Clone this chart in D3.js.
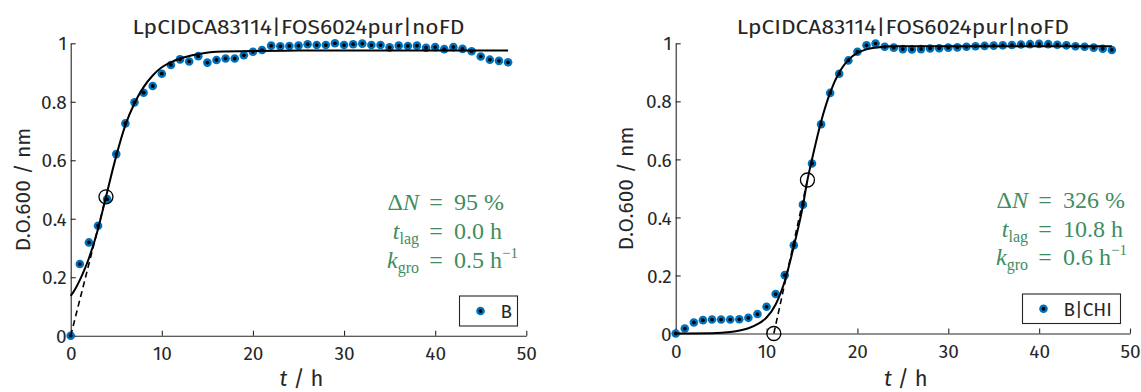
<!DOCTYPE html>
<html>
<head>
<meta charset="utf-8">
<script src="https://cdn.jsdelivr.net/npm/d3@7"></script>
<style>
  html, body { margin: 0; padding: 0; background: #fff; }
  svg { display: block; }
  .tick text, .lbl { font-family: "Fira Sans", "Open Sans", "Noto Sans", sans-serif; fill: #262626; }
  .stat { font-family: "Liberation Serif", "DejaVu Serif", serif; fill: #3f8d5f; font-size: 24px; }
</style>
</head>
<body>
<svg id="chart" width="1141" height="392"></svg>
<script>
// Sampling times (h)
const hours = [0,1,2,3,4,5,6,7,8,9,10,11,12,13,14,15,16,17,18,19,20,21,22,23,24,
  25,26,27,28,29,30,31,32,33,34,35,36,37,38,39,40,41,42,43,44,45,46,47,48];

// Optical density, condition B
const odB = [0,0.245,0.319,0.376,0.467,0.621,0.726,0.798,0.831,0.854,0.896,0.926,0.945,
  0.938,0.956,0.934,0.943,0.948,0.948,0.959,0.971,0.977,0.992,0.990,0.991,0.992,0.997,
  0.994,0.994,1.0,0.994,0.997,0.999,0.994,0.994,0.986,0.992,0.991,0.992,0.985,0.987,
  0.980,0.987,0.981,0.973,0.955,0.944,0.940,0.935];

// Optical density, condition B|CHI
const odBC = [0,0.017,0.038,0.046,0.048,0.048,0.048,0.049,0.054,0.067,0.092,0.136,0.201,
  0.304,0.444,0.586,0.721,0.829,0.895,0.941,0.971,0.993,0.999,0.988,0.985,0.980,0.979,
  0.980,0.982,0.983,0.985,0.986,0.988,0.990,0.991,0.992,0.993,0.994,0.996,0.997,0.998,
  0.997,0.995,0.993,0.990,0.988,0.985,0.981,0.977];

// Fitted growth curves (sampled)
const fitTimeB = [0,0.5,1,1.5,2,3,3.87,5,6,7,8,9,10,11,12,14,16,20,25,48];
const fitB = [0.136,0.16,0.19,0.225,0.265,0.365,0.475,0.615,0.72,0.795,0.85,0.89,0.918,
  0.935,0.948,0.963,0.971,0.974,0.975,0.975];
const fitTimeBC = [0,4,6,8,9,10,11,12,13,14,14.5,15,16,17,18,19,20,21,22,24,48];
const fitBC = [0,0.001,0.005,0.018,0.032,0.055,0.1,0.18,0.3,0.44,0.529,0.6,0.73,0.83,0.9,
  0.943,0.967,0.979,0.985,0.99,0.99];

// Inflection points, lag times and growth statistics
const inflB = [3.87, 0.475];
const inflBC = [14.5, 0.529];
const lagB = 0.0, lagBC = 10.8;
const deltaN = ["95", "326"];
const lagText = ["0.0", "10.8"];
const kText = ["0.5", "0.6"];

const titleText = "LpCIDCA83114|FOS6024pur|noFD";
const legendText = ["B", "B|CHI"];
const xTicks = [0,10,20,30,40,50];
const yTicks = [0,0.2,0.4,0.6,0.8,1];

const svg = d3.select("#chart");
const axisColor = "#262626";
const blue = "#0072BD";

const panels = [
  { x0: 70.7, x1: 526.3, yb: 335.7, yt: 43.3, od: odB, ft: fitTimeB, fv: fitB, infl: inflB, lag: lagB,
    showLagCircle: false, i: 0, legend: { x: 459.5, y: 296, w: 58, h: 30 },
    stat: { eq: 427, base: [210, 239, 268] }, ylab: 40.5 },
  { x0: 675.7, x1: 1130, yb: 333.5, yt: 43.3, od: odBC, ft: fitTimeBC, fv: fitBC, infl: inflBC, lag: lagBC,
    showLagCircle: true, i: 1, legend: { x: 1022.5, y: 294, w: 98, h: 29.5 },
    stat: { eq: 1036, base: [208, 237, 265] }, ylab: 43 }
];

panels.forEach(p => {
  const x = d3.scaleLinear().domain([0, 50]).range([p.x0, p.x1]);
  const y = d3.scaleLinear().domain([0, 1]).range([p.yb, p.yt]);
  const g = svg.append("g");

  // axes (ticks point inward)
  const xa = g.append("g").attr("transform", `translate(0,${p.yb})`)
    .call(d3.axisBottom(x).tickValues(xTicks).tickSize(-5).tickSizeOuter(0).tickPadding(0)
      .tickFormat(d3.format("d")));
  xa.selectAll(".tick text").attr("y", 24).attr("dy", null).style("font-size", "19px");
  const ya = g.append("g").attr("transform", `translate(${p.x0},0)`)
    .call(d3.axisLeft(y).tickValues(yTicks).tickSize(-5).tickSizeOuter(0).tickPadding(0)
      .tickFormat(d => d === 0 || d === 1 ? d3.format("d")(d) : d3.format(".1f")(d)));
  ya.selectAll(".tick text").attr("x", -4).attr("dy", "0.35em").style("font-size", "19px");
  [xa, ya].forEach(a => {
    a.select(".domain").attr("stroke", axisColor).attr("stroke-width", 1.1);
    a.selectAll(".tick line").attr("stroke", axisColor).attr("stroke-width", 1.1);
  });

  // title and axis labels
  g.append("text").attr("class", "lbl").attr("x", (p.x0 + p.x1) / 2).attr("y", 34)
    .attr("text-anchor", "middle").style("font-size", "21px")
    .attr("textLength", 332).attr("lengthAdjust", "spacingAndGlyphs").text(titleText);
  g.append("text").attr("class", "lbl")
    .attr("transform", `translate(${p.x0 - p.ylab},${(p.yb + p.yt) / 2}) rotate(-90)`)
    .attr("text-anchor", "middle").style("font-size", "21px").text("D.O.600 / nm");
  const xl = g.append("text").attr("class", "lbl").attr("x", (p.x0 + p.x1) / 2 + 3).attr("y", 386)
    .attr("text-anchor", "middle").style("font-size", "22px");
  xl.append("tspan").style("font-style", "italic").text("t");
  xl.append("tspan").text(" / h");

  // measured points: blue disc with black centre
  const pts = g.append("g");
  pts.selectAll("circle.o").data(hours).join("circle").attr("class", "o")
    .attr("cx", (d) => x(d)).attr("cy", (d, k) => y(p.od[k])).attr("r", 4.3).attr("fill", blue);
  pts.selectAll("circle.c").data(hours).join("circle").attr("class", "c")
    .attr("cx", (d) => x(d)).attr("cy", (d, k) => y(p.od[k])).attr("r", 1.9).attr("fill", "#000");

  // fitted curve
  const fitData = p.ft.map((t, k) => [t, p.fv[k]]);
  g.append("path").datum(fitData)
    .attr("d", d3.line().x(d => x(d[0])).y(d => y(d[1])).curve(d3.curveMonotoneX))
    .attr("fill", "none").attr("stroke", "#000").attr("stroke-width", 2);

  // tangent at inflection point, back to the lag time
  g.append("line").attr("x1", x(p.lag)).attr("y1", y(0)).attr("x2", x(p.infl[0])).attr("y2", y(p.infl[1]))
    .attr("stroke", "#000").attr("stroke-width", 1.6).attr("stroke-dasharray", "6,4");
  g.append("circle").attr("cx", x(p.infl[0])).attr("cy", y(p.infl[1])).attr("r", 7)
    .attr("fill", "none").attr("stroke", "#000").attr("stroke-width", 1.3);
  if (p.showLagCircle) {
    g.append("circle").attr("cx", x(p.lag)).attr("cy", y(0)).attr("r", 7)
      .attr("fill", "none").attr("stroke", "#000").attr("stroke-width", 1.3);
  }

  // growth statistics, aligned on the equals sign
  const rows = [
    [["Δ", ""], ["N", "i"], `${deltaN[p.i]} %`],
    [["t", "i"], ["lag", "sub"], `${lagText[p.i]} h`],
    [["k", "i"], ["gro", "sub"], `${kText[p.i]} h`]
  ];
  rows.forEach((r, k) => {
    const yb = p.stat.base[k];
    const left = g.append("text").attr("class", "stat").attr("x", p.stat.eq - 8).attr("y", yb)
      .attr("text-anchor", "end");
    [r[0], r[1]].forEach(part => {
      const ts = left.append("tspan").text(part[0]);
      if (part[1] === "i") ts.style("font-style", "italic");
      if (part[1] === "sub") ts.attr("font-size", "16px").attr("dy", 5);
    });
    g.append("text").attr("class", "stat").attr("x", p.stat.eq + 9).attr("y", yb)
      .attr("text-anchor", "middle").text("=");
    const right = g.append("text").attr("class", "stat").attr("x", p.stat.eq + 27).attr("y", yb).text(r[2]);
    if (k === 2) right.append("tspan").attr("font-size", "15px").attr("dy", -10).text("−1");
  });

  // legend
  const L = p.legend;
  const lg = g.append("g");
  lg.append("rect").attr("x", L.x).attr("y", L.y).attr("width", L.w).attr("height", L.h)
    .attr("fill", "#fff").attr("stroke", axisColor).attr("stroke-width", 1.1);
  lg.append("circle").attr("cx", L.x + 21).attr("cy", L.y + L.h / 2).attr("r", 4.3).attr("fill", blue);
  lg.append("circle").attr("cx", L.x + 21).attr("cy", L.y + L.h / 2).attr("r", 1.9).attr("fill", "#000");
  lg.append("text").attr("class", "lbl").attr("x", L.x + 41).attr("y", L.y + L.h / 2)
    .attr("dy", "0.36em").style("font-size", "19px").text(legendText[p.i]);
});
</script>
</body>
</html>
